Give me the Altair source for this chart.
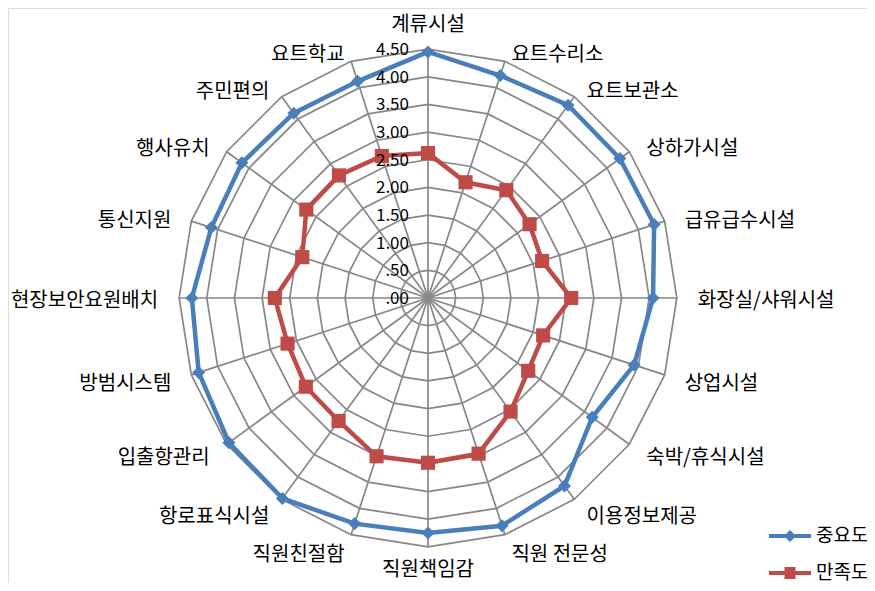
import altair as alt
import pandas as pd

categories = ["계류시설", "요트수리소", "요트보관소", "상하가시설", "급유급수시설",
              "화장실/샤워시설", "상업시설", "숙박/휴식시설", "이용정보제공", "직원 전문성",
              "직원책임감", "직원친절함", "항로표식시설", "입출항관리", "방범시스템",
              "현장보안요원배치", "통신지원", "행사유치", "주민편의", "요트학교"]
importance = [4.45, 4.23, 4.31, 4.29, 4.30, 4.07, 3.92, 3.67, 4.20, 4.33,
              4.25, 4.29, 4.48, 4.45, 4.36, 4.27, 4.12, 4.16, 4.13, 4.12]
satisfaction = [2.62, 2.20, 2.41, 2.27, 2.17, 2.59, 2.19, 2.24, 2.54, 2.96,
                2.98, 3.01, 2.75, 2.73, 2.67, 2.77, 2.39, 2.72, 2.74, 2.70]
series_names = ["중요도", "만족도"]
tick_values = [0.0, 0.5, 1.0, 1.5, 2.0, 2.5, 3.0, 3.5, 4.0, 4.5]
tick_labels = [".00", ".50", "1.00", "1.50", "2.00", "2.50", "3.00", "3.50", "4.00", "4.50"]

N = len(categories)
FONT = "Noto Sans CJK KR"
BLUE = "#4A7EBB"
RED = "#BE4B48"
GRID = "#878787"

rows = []
for name, vals in zip(series_names, [importance, satisfaction]):
    for i in range(N + 1):
        rows.append({"series": name, "idx": i, "category": categories[i % N], "value": vals[i % N]})
series_df = pd.DataFrame(rows)
ring_df = pd.DataFrame([{"level": t, "idx": i} for t in tick_values[1:] for i in range(N + 1)])
cat_df = pd.DataFrame({"category": categories, "idx": list(range(N))})
tick_df = pd.DataFrame({"value": tick_values, "label": tick_labels})

ANG = f"(datum.idx * 2 * PI / {N})"
RMAX = tick_values[-1]

xs = alt.Scale(domain=[-7.595, 7.939], nice=False, zero=False)
ys = alt.Scale(domain=[-5.154, 5.244], nice=False, zero=False)

rings = alt.Chart(ring_df).transform_calculate(
    x=f"datum.level * sin({ANG})", y=f"datum.level * cos({ANG})"
).mark_line(color=GRID, strokeWidth=1.7).encode(
    x=alt.X("x:Q", scale=xs, axis=None),
    y=alt.Y("y:Q", scale=ys, axis=None),
    detail="level:N",
    order="idx:Q",
)

spokes = alt.Chart(cat_df).transform_calculate(
    x0="0", y0="0", x2=f"{RMAX} * sin({ANG})", y2=f"{RMAX} * cos({ANG})"
).mark_rule(color=GRID, strokeWidth=1.7).encode(
    x=alt.X("x0:Q", scale=xs, axis=None),
    y=alt.Y("y0:Q", scale=ys, axis=None),
    x2="x2:Q",
    y2="y2:Q",
)

color_scale = alt.Scale(domain=series_names, range=[BLUE, RED])

path_a = "M-3.2,-0.2H1V0.2H-3.2Z M-1.1,-0.6L-0.5,0L-1.1,0.6L-1.7,0Z"
path_b = "M-3.2,-0.2H1V0.2H-3.2Z M-1.65,-0.6H-0.55V0.6H-1.65Z"

lines = alt.Chart(series_df).transform_calculate(
    x=f"datum.value * sin({ANG})", y=f"datum.value * cos({ANG})"
).mark_line(strokeWidth=4.5).encode(
    x=alt.X("x:Q", scale=xs, axis=None),
    y=alt.Y("y:Q", scale=ys, axis=None),
    color=alt.Color("series:N", scale=color_scale, legend=None),
    detail="series:N",
    order="idx:Q",
)

points = alt.Chart(series_df).transform_filter(f"datum.idx < {N}").transform_calculate(
    x=f"datum.value * sin({ANG})", y=f"datum.value * cos({ANG})"
).mark_point(filled=True, opacity=1).encode(
    x=alt.X("x:Q", scale=xs, axis=None),
    y=alt.Y("y:Q", scale=ys, axis=None),
    color=alt.Color("series:N", scale=color_scale, legend=None),
    shape=alt.Shape("series:N", scale=alt.Scale(domain=series_names, range=["diamond", "square"]), legend=None),
    size=alt.Size("series:N", scale=alt.Scale(domain=series_names, range=[170, 200]), legend=None),
)

legend = alt.Legend(
    title=None, orient="none", legendX=783, legendY=518, direction="vertical",
    symbolSize=400, symbolStrokeWidth=0, symbolOpacity=1,
    labelFont=FONT, labelFontSize=19, labelColor="#000000",
    labelOffset=5, rowPadding=17, padding=0,
)

legend_layer = alt.Chart(series_df).transform_filter("false").mark_point(
    filled=True, size=400
).encode(
    x=alt.X("value:Q", scale=xs, axis=None),
    y=alt.Y("value:Q", scale=ys, axis=None),
    color=alt.Color("series:N", scale=color_scale, legend=legend),
    shape=alt.Shape("series:N", scale=alt.Scale(domain=series_names, range=[path_a, path_b]), legend=legend),
)

ticks = alt.Chart(tick_df).transform_calculate(x0="0").mark_text(
    align="right", baseline="middle", dx=-19, dy=1, font=FONT, fontSize=17, color="#000000"
).encode(
    x=alt.X("x0:Q", scale=xs, axis=None),
    y=alt.Y("value:Q", scale=ys, axis=None),
    text="label:N",
)

half = N // 2

def cat_layer(filt, align):
    return alt.Chart(cat_df).transform_filter(filt).transform_calculate(
        c=f"cos({ANG})", s=f"sin({ANG})"
    ).transform_calculate(
        x="datum.idx % 10 === 0 ? 0 : 4.88 * datum.s",
        y=f"datum.idx === 0 ? 4.99 : (datum.idx === {half} ? -4.86 : datum.c * (datum.c > 0 ? 4.67 : 4.83))",
    ).mark_text(align=align, baseline="middle", dy=3, font=FONT, fontSize=20, color="#000000").encode(
        x=alt.X("x:Q", scale=xs, axis=None),
        y=alt.Y("y:Q", scale=ys, axis=None),
        text="category:N",
    )

lab_center = cat_layer(f"datum.idx % {half} === 0", "center")
lab_right = cat_layer(f"datum.idx > 0 && datum.idx < {half}", "left")
lab_left = cat_layer(f"datum.idx > {half}", "right")

chart = alt.layer(
    rings, spokes, lines, points, ticks, lab_center, lab_right, lab_left, legend_layer
).resolve_scale(
    color="independent", shape="independent", size="independent"
).properties(
    width=859, height=575, padding=0,
    autosize=alt.AutoSizeParams(type="none"),
).configure_view(stroke=None).configure(background="white")

chart.save("out.html", embed_options={"renderer": "svg", "actions": False})
